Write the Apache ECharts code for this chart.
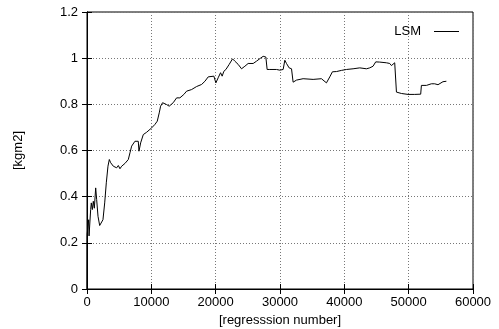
<!DOCTYPE html>
<html>
<head>
<meta charset="utf-8">
<script src="https://cdn.jsdelivr.net/npm/echarts@6/dist/echarts.min.js"></script>
<style>html,body{margin:0;padding:0;background:#fff}#c{width:499px;height:329px}</style>
</head>
<body>
<div id="c"></div>
<script>
// regression number
var xs = [0, 20, 50, 155, 260, 320, 570, 670, 830, 980, 1140, 1350, 1500, 1710, 1970, 2230, 2480, 2750, 3000, 3260, 3470, 3680, 3880, 4090, 4350, 4610, 4870, 5120, 5390, 5640, 5900, 6160, 6420, 6680, 6940, 7450, 7970, 8080, 8340, 8750, 9270, 10050, 10560, 10920, 11070, 11230, 11440, 11750, 12370, 12780, 13400, 13930, 14440, 14710, 15060, 15480, 16260, 17030, 17810, 18330, 18840, 19720, 20030, 20390, 20760, 21010, 21270, 21590, 22100, 22620, 22980, 23500, 24020, 24540, 25050, 25830, 26350, 26970, 27380, 27800, 28000, 28420, 29460, 29970, 30230, 30490, 30750, 31010, 31420, 31790, 32040, 32560, 33590, 35150, 36440, 36700, 37220, 37740, 38150, 38780, 39550, 40330, 41360, 42400, 42660, 43440, 43950, 44460, 44880, 45500, 46540, 47060, 47320, 47830, 48100, 48350, 48870, 49900, 50940, 51870, 51980, 52760, 53530, 54040, 54560, 54820, 55330, 55860];
// LSM estimate [kgm2]
var lsm = [0, 0.236, 0.236, 0.272, 0.30, 0.23, 0.344, 0.373, 0.344, 0.38, 0.35, 0.438, 0.388, 0.315, 0.275, 0.279, 0.30, 0.373, 0.46, 0.532, 0.561, 0.547, 0.554, 0.532, 0.539, 0.525, 0.535, 0.521, 0.532, 0.525, 0.544, 0.539, 0.561, 0.59, 0.619, 0.640, 0.640, 0.597, 0.633, 0.669, 0.679, 0.698, 0.713, 0.727, 0.734, 0.763, 0.792, 0.807, 0.799, 0.792, 0.807, 0.828, 0.828, 0.835, 0.843, 0.857, 0.864, 0.877, 0.886, 0.900, 0.919, 0.922, 0.893, 0.915, 0.937, 0.922, 0.943, 0.951, 0.973, 0.997, 0.987, 0.973, 0.954, 0.965, 0.977, 0.977, 0.987, 1.0, 1.008, 1.005, 0.951, 0.951, 0.951, 0.948, 0.94, 0.951, 0.991, 0.977, 0.958, 0.954, 0.896, 0.905, 0.911, 0.908, 0.911, 0.908, 0.893, 0.919, 0.941, 0.942, 0.947, 0.951, 0.954, 0.958, 0.951, 0.954, 0.958, 0.965, 0.984, 0.983, 0.98, 0.977, 0.968, 0.98, 0.853, 0.85, 0.847, 0.843, 0.843, 0.844, 0.882, 0.882, 0.889, 0.889, 0.885, 0.890, 0.898, 0.90];
var xTicks = [0, 10000, 20000, 30000, 40000, 50000, 60000];
var yTicks = [0, 0.2, 0.4, 0.6, 0.8, 1, 1.2];
var seriesName = 'LSM';
var xName = '[regresssion number]';
var yName = '[kgm2]';

var data = xs.map(function (x, i) { return [x, lsm[i]]; });
var font = 'Liberation Sans, Arial, Helvetica, sans-serif';
var gridLine = { show: true, lineStyle: { color: '#777', type: [1, 2], width: 1 } };
var tick = { show: true, inside: true, length: 5, lineStyle: { color: '#000' } };

var chart = echarts.init(document.getElementById('c'), null, { renderer: 'canvas' });
chart.setOption({
  animation: false,
  backgroundColor: '#fff',
  textStyle: { fontFamily: font },
  grid: { left: 87, right: 26, top: 12, bottom: 40, outerBoundsMode: 'none', containLabel: false,
    show: true, borderColor: '#000', borderWidth: 1, backgroundColor: 'transparent' },
  legend: {
    show: true, right: 40, top: 25, padding: 0, align: 'right', itemWidth: 25, itemHeight: 1, itemGap: 0,
    icon: 'rect',
    itemStyle: { color: '#000', borderWidth: 0 },
    textStyle: { fontFamily: font, fontSize: 13, color: '#000', padding: [0, 8, 0, 0] },
    data: [{ name: seriesName }]
  },
  xAxis: [{
    type: 'value', min: xTicks[0], max: xTicks[xTicks.length - 1], interval: 10000,
    name: xName, nameLocation: 'middle', nameGap: 19,
    nameTextStyle: { fontFamily: font, fontSize: 13, color: '#000' },
    axisLine: { show: true, onZero: false, lineStyle: { color: '#000' } },
    axisTick: tick,
    axisLabel: { show: true, fontFamily: font, fontSize: 13, color: '#000', margin: 7,
      formatter: function (v) { return String(v); } },
    splitLine: gridLine
  }, {
    type: 'value', position: 'top', min: xTicks[0], max: xTicks[xTicks.length - 1], interval: 10000,
    axisLine: { show: true, lineStyle: { color: '#000' } }, axisTick: tick,
    axisLabel: { show: false }, splitLine: { show: false }
  }],
  yAxis: [{
    type: 'value', min: yTicks[0], max: yTicks[yTicks.length - 1], interval: 0.2,
    name: yName, nameLocation: 'middle', nameGap: 62, nameRotate: 90,
    nameTextStyle: { fontFamily: font, fontSize: 13, color: '#000' },
    axisLine: { show: true, onZero: false, lineStyle: { color: '#000' } },
    axisTick: tick,
    axisLabel: { show: true, fontFamily: font, fontSize: 13, color: '#000', margin: 9,
      formatter: function (v) { return String(Math.round(v * 10) / 10); } },
    splitLine: gridLine
  }, {
    type: 'value', position: 'right', min: yTicks[0], max: yTicks[yTicks.length - 1], interval: 0.2,
    axisLine: { show: true, lineStyle: { color: '#000' } }, axisTick: tick,
    axisLabel: { show: false }, splitLine: { show: false }
  }],
  series: [{
    name: seriesName, type: 'line', xAxisIndex: 0, yAxisIndex: 0,
    data: data, symbol: 'none', showSymbol: false,
    lineStyle: { color: '#000', width: 1 }, itemStyle: { color: '#000' }
  }]
});
</script>
</body>
</html>
